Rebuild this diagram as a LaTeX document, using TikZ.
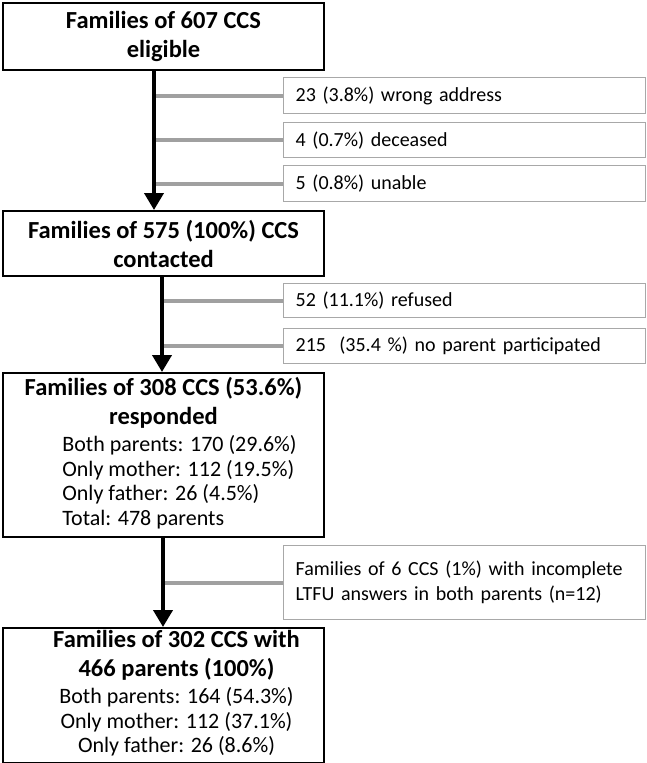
\documentclass[tikz,border=0pt]{standalone}
\usepackage{fontspec}
\setmainfont{Carlito}
\usepackage{tikz}
\usetikzlibrary{positioning,arrows.meta}
\definecolor{branchgray}{HTML}{A0A0A0}
\definecolor{boxgray}{HTML}{A8A8A8}
\newcommand{\bodyfont}{\fontsize{22}{24.5}\selectfont}
\newcommand{\sidefont}{\fontsize{20}{25}\selectfont}

\begin{document}
\begin{tikzpicture}[x=1pt,y=-1pt,
  mainbox/.style={draw=black,line width=2pt,anchor=north west,minimum width=321pt,align=center,inner sep=0pt,font=\fontsize{24.5}{29}\selectfont\bfseries},
  sidebox/.style={draw=boxgray,line width=1.3pt,anchor=north west,text width=338pt,inner xsep=12pt,inner ysep=0pt,align=left,font=\sidefont},
  flow/.style={line width=4pt,-{Triangle[length=17pt,width=19pt]}},
  branch/.style={branchgray,line width=4pt}]
\useasboundingbox (0,0) rectangle (646,763);
% main boxes
\node[mainbox,minimum height=67pt] (elig) at (2,2) {Families of 607 CCS\\eligible};
\node[mainbox,minimum height=65pt] (cont) at (2,210) {Families of 575 (100\%) CCS\\contacted};
\node[mainbox,minimum height=164pt] (resp) at (2,372) {Families of 308 CCS (53.6\%)\\responded\\[-2pt]
  {\mdseries\bodyfont\begin{tabular}[t]{@{\hspace*{32pt}}l@{}}Both parents: 170 (29.6\%)\\Only mother: 112 (19.5\%)\\Only father: 26 (4.5\%)\\Total: 478 parents\end{tabular}}};
\node[mainbox,minimum height=135pt] (final) at (2,627) {\hspace*{26pt}Families of 302 CCS with\\\hspace*{26pt}466 parents (100\%)\\[-2pt]
  {\mdseries\bodyfont\begin{tabular}[t]{@{\hspace*{26pt}}c@{}}Both parents: 164 (54.3\%)\\Only mother: 112 (37.1\%)\\Only father: 26 (8.6\%)\end{tabular}}};
% excluded
\node[sidebox,minimum height=36pt] (wrong) at (283,77) {23 (3.8\%) wrong address};
\node[sidebox,minimum height=35pt] (dead) at (283,122) {4 (0.7\%) deceased};
\node[sidebox,minimum height=36pt] (unable) at (283,165) {5 (0.8\%) unable};
\node[sidebox,minimum height=34pt] (refused) at (283,283) {52 (11.1\%) refused};
\node[sidebox,minimum height=35pt] (noparent) at (283,328) {215\ \ (35.4 \%) no parent participated};
\node[sidebox,minimum height=74pt] (incompl) at (283,545) {Families of 6 CCS (1\%) with incomplete\\LTFU answers in both parents (n=12)};
% arrows
\coordinate (a1) at (154,0);
\coordinate (a2) at (162,0);
\coordinate (a3) at (163,0);
\foreach \s in {wrong,dead,unable}
  \draw[branch] (\s.west) -- (\s.west -| a1);
\foreach \s in {refused,noparent}
  \draw[branch] (\s.west) -- (\s.west -| a2);
\draw[branch] (incompl.west) -- (incompl.west -| a3);
\draw[flow] (elig.south -| a1) -- (cont.north -| a1);
\draw[flow] (cont.south -| a2) -- (resp.north -| a2);
\draw[flow] (resp.south -| a3) -- (final.north -| a3);
\end{tikzpicture}
\end{document}
